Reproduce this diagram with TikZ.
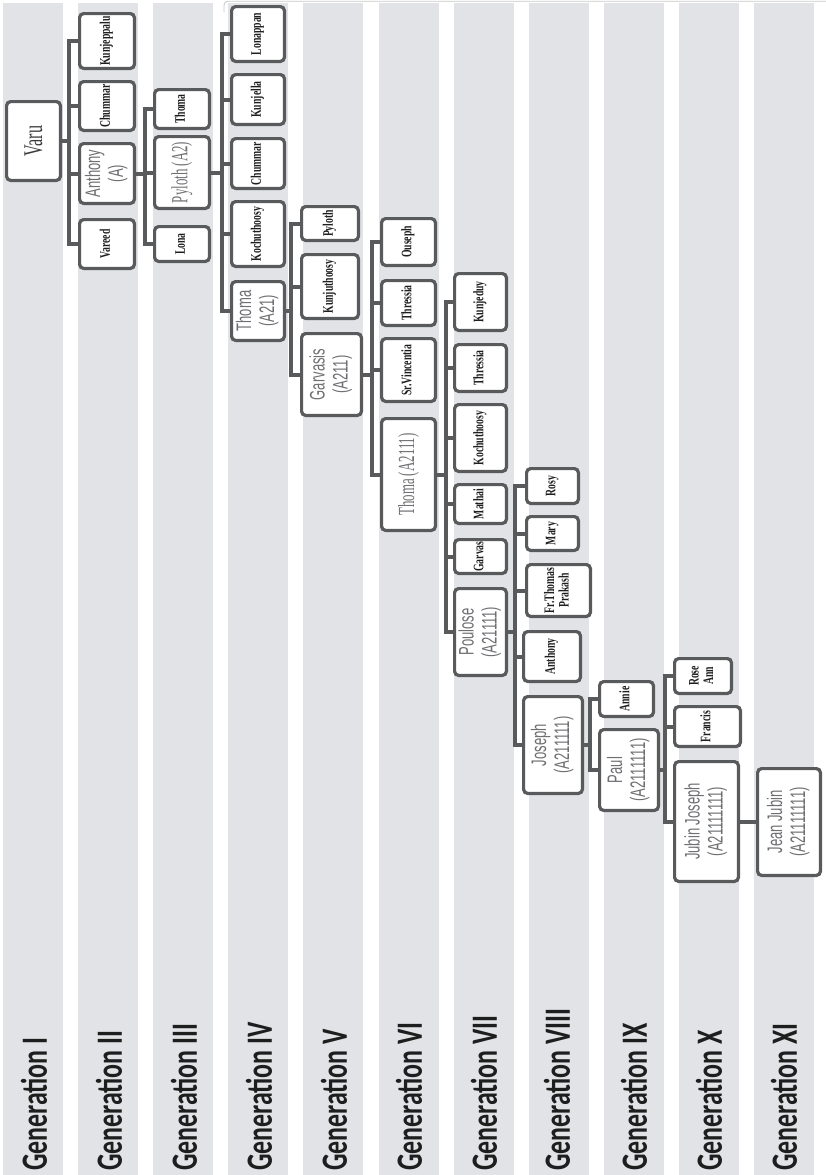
\documentclass[tikz,border=0pt]{standalone}
\usepackage{fontspec}
\setmainfont{Liberation Serif}
\newfontfamily\genfont{Carlito}
\newfontfamily\lsans{Liberation Sans}
\usetikzlibrary{calc}
\definecolor{bandc}{HTML}{E1E3E6}
\definecolor{linec}{HTML}{595A5C}
\definecolor{lightc}{HTML}{6E6F72}
\definecolor{namec}{HTML}{1E1E1E}
\definecolor{varuc}{HTML}{3C3C3C}
\definecolor{framec}{HTML}{C8C8C8}
\tikzset{
  famnode/.style={draw=linec, line width=3.2pt, rounded corners=4pt, fill=white, inner sep=0pt, outer sep=0pt},
  conn/.style={draw=linec, line width=4pt},
  genlab/.style={rotate=90, anchor=west, inner sep=0pt, text=namec, font=\genfont\bfseries\fontsize{37}{37}\selectfont},
  band/.style={fill=bandc, draw=none},
}
\newcommand{\bxn}[6]{\node[famnode, minimum width={#4-#2-3.2}, minimum height={#5-#3-3.2}] (#1) at ({(#2+#4)/2},{(#3+#5)/2}) {#6};}
\newcommand{\nmb}[1]{\rotatebox{90}{\scalebox{0.67}[1]{\fontsize{14.5}{14.5}\selectfont\bfseries\color{namec}\begin{tabular}{@{}c@{}}#1\end{tabular}}}}
\newcommand{\lgs}[1]{\rotatebox{90}{\scalebox{0.62}[1]{\lsans\fontsize{21}{23}\selectfont\color{lightc}\begin{tabular}{@{}c@{}}#1\end{tabular}}}}
\newcommand{\lgr}[1]{\rotatebox{90}{\scalebox{0.56}[1]{\fontsize{23}{23}\selectfont\color{lightc}#1}}}
\newcommand{\gtx}[1]{\scalebox{0.7}[1]{#1}}
\newcommand{\famc}[3]{\coordinate (b#1) at (#2,0);\foreach \c in {#3}{\draw[conn] (#1.east) -- (#1.east -| b#1) |- (\c.west);}}
\begin{document}
\begin{tikzpicture}[x=1pt,y=-1pt]
\useasboundingbox (0,0) rectangle (826,1175);
\fill[white] (0,0) rectangle (826,1175);
% bands
\foreach \i in {0,...,10}{\fill[band] ({3+75.1*\i},3) rectangle ({63+75.1*\i},1175);}
% frame line
\draw[framec, line width=0.8pt, rounded corners=4pt] (224,12) -- (224,1.2) -- (826,1.2);
% generation labels
\node[genlab] (g1) at (34,1171) {\gtx{Generation I}};
\node[genlab] (g2) at (109,1171) {\gtx{Generation II}};
\node[genlab] (g3) at (184,1171) {\gtx{Generation III}};
\node[genlab] (g4) at (259,1171) {\gtx{Generation IV}};
\node[genlab] (g5) at (334,1171) {\gtx{Generation V}};
\node[genlab] (g6) at (409,1171) {\gtx{Generation VI}};
\node[genlab] (g7) at (484,1171) {\gtx{Generation VII}};
\node[genlab] (g8) at (557,1171) {\gtx{Generation VIII}};
\node[genlab] (g9) at (634,1171) {\gtx{Generation IX}};
\node[genlab] (g10) at (709,1171) {\gtx{Generation X}};
\node[genlab] (g11) at (784,1171) {\gtx{Generation XI}};
% Gen I
\bxn{varu}{5}{100}{62}{182}{\rotatebox{90}{\scalebox{0.6}[1]{\fontsize{27}{27}\selectfont\color{varuc}Varu}}}
% Gen II
\bxn{kunjeppalu}{78}{12}{136}{70}{\nmb{Kunjeppalu}}
\bxn{chummarA}{78}{80}{136}{132}{\nmb{Chummar}}
\bxn{anthonyA}{78}{142}{136}{205}{\lgs{Anthony\\(A)}}
\bxn{vareed}{78}{218}{136}{270}{\nmb{Vareed}}
% Gen III
\bxn{thomaA}{153}{88}{211}{130}{\nmb{Thoma}}
\bxn{pylothA}{153}{135}{211}{210}{\lgr{Pyloth (A2)}}
\bxn{lona}{153}{225}{211}{263}{\nmb{Lona}}
% Gen IV
\bxn{lonappan}{230}{5}{286}{63}{\nmb{Lonappan}}
\bxn{kunjella}{230}{73}{286}{126}{\nmb{Kunjella}}
\bxn{chummarB}{230}{137}{286}{190}{\nmb{Chummar}}
\bxn{kochuA}{230}{200}{286}{268}{\nmb{Kochuthoosy}}
\bxn{thomaB}{230}{280}{286}{342}{\lgs{Thoma\\(A21)}}
% Gen V
\bxn{pylothB}{300}{205}{360}{242}{\nmb{Pyloth}}
\bxn{kunju}{300}{253}{360}{320}{\nmb{Kunjuthoosy}}
\bxn{garvasis}{300}{332}{363}{417}{\lgs{Garvasis\\(A211)}}
% Gen VI
\bxn{ouseph}{380}{217}{437}{267}{\nmb{Ouseph}}
\bxn{thressiaA}{380}{279}{437}{327}{\nmb{Thressia}}
\bxn{vincentia}{380}{337}{437}{403}{\nmb{Sr.Vincentia}}
\bxn{thomaC}{380}{417}{437}{532}{\lgr{Thoma (A2111)}}
% Gen VII
\bxn{kunjeduy}{453}{272}{508}{332}{\nmb{Kunjeduy}}
\bxn{thressiaB}{453}{343}{508}{393}{\nmb{Thressia}}
\bxn{kochuB}{453}{403}{508}{473}{\nmb{Kochuthoosy}}
\bxn{mathai}{453}{483}{508}{525}{\nmb{Mathai}}
\bxn{garvas}{453}{538}{508}{575}{\nmb{Garvas}}
\bxn{poulose}{453}{587}{508}{677}{\lgs{Poulose\\(A21111)}}
% Gen VIII
\bxn{rosy}{525}{467}{580}{505}{\nmb{Rosy}}
\bxn{mary}{525}{515}{580}{552}{\nmb{Mary}}
\bxn{frthomas}{525}{563}{592}{618}{\nmb{Fr.Thomas\\Prakash}}
\bxn{anthonyB}{522}{630}{582}{683}{\nmb{Anthony}}
\bxn{joseph}{522}{695}{584}{795}{\lgs{Joseph\\(A211111)}}
% Gen IX
\bxn{annie}{598}{680}{655}{718}{\nmb{Annie}}
\bxn{paul}{598}{728}{660}{812}{\lgs{Paul\\(A2111111)}}
% Gen X
\bxn{roseann}{673}{657}{733}{695}{\nmb{Rose\\Ann}}
\bxn{francis}{673}{705}{742}{748}{\nmb{Francis}}
\bxn{jubin}{673}{760}{740}{883}{\lgs{Jubin Joseph\\(A21111111)}}
% Gen XI
\bxn{jean}{756}{767}{822}{877}{\lgs{Jean Jubin\\(A21111111)}}
% connectors
\famc{varu}{69}{kunjeppalu,chummarA,anthonyA,vareed}
\famc{anthonyA}{145}{thomaA,pylothA,lona}
\famc{pylothA}{222}{lonappan,kunjella,chummarB,kochuA,thomaB}
\famc{thomaB}{291}{pylothB,kunju,garvasis}
\famc{garvasis}{372}{ouseph,thressiaA,vincentia,thomaC}
\famc{thomaC}{446}{kunjeduy,thressiaB,kochuB,mathai,garvas,poulose}
\famc{poulose}{515}{rosy,mary,frthomas,anthonyB,joseph}
\famc{joseph}{590}{annie,paul}
\famc{paul}{665}{roseann,francis,jubin}
\draw[conn] (jubin.east) -- (jubin.east -| jean.west);
\end{tikzpicture}
\end{document}
